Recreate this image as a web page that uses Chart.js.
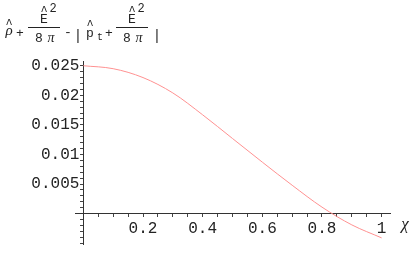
<!DOCTYPE html>
<html>
<head>
<meta charset="utf-8">
<script src="https://cdn.jsdelivr.net/npm/chart.js@4"></script>
<style>
html, body { margin: 0; padding: 0; background: #fff; }
#wrap { width: 416px; height: 257px; }
</style>
</head>
<body>
<div id="wrap"><canvas id="myChart" width="416" height="257"></canvas></div>
<script>
var chiValues = [0, 0.1, 0.2, 0.3, 0.4, 0.5, 0.6, 0.7, 0.8, 0.9, 1.0];
var curveValues = [0.0250, 0.0245, 0.0230, 0.0204, 0.0167, 0.0127, 0.0087, 0.0048, 0.0011, -0.0019, -0.0041];
var xLabels = [0.2, 0.4, 0.6, 0.8, 1];
var yLabels = [0.005, 0.01, 0.015, 0.02, 0.025];

var points = chiValues.map(function(c, i){ return {x: c, y: curveValues[i]}; });

function isLabel(v, list){
  return list.some(function(t){ return Math.abs(t - v) < 1e-9; });
}

var mono = '"Liberation Mono", monospace';
var ink = 'rgb(35,35,35)';

// axis label drawn Mathematica-style in the top left corner
var axisLabels = {
  id: 'axisLabels',
  beforeDraw: function(chart){
    // y labels sit a few px left of the crossing axis
    var s = chart.scales.y;
    if (s && !s._shifted) {
      var orig = s.drawLabels;
      s.drawLabels = function(area){
        this.ctx.save();
        this.ctx.translate(-4, 0);
        orig.call(this, area);
        this.ctx.restore();
      };
      s._shifted = true;
    }
  },
  afterDraw: function(chart){
    var ctx = chart.ctx;
    ctx.save();
    ctx.fillStyle = ink;
    ctx.strokeStyle = ink;
    ctx.lineWidth = 1;
    ctx.textBaseline = 'alphabetic';

    function txt(s, x, y, font, align){
      ctx.font = font;
      ctx.textAlign = align || 'left';
      ctx.fillText(s, x, y);
    }
    function frac(cx){
      txt('E', cx, 23, '13px ' + mono, 'center');
      txt('^', cx, 15, '12px ' + mono, 'center');
      txt('2', cx + 9, 12, '12px ' + mono, 'center');
      ctx.beginPath();
      ctx.moveTo(cx - 16, 27.5); ctx.lineTo(cx + 16, 27.5);
      ctx.stroke();
      txt('8', cx - 5, 42, '13px ' + mono, 'center');
      txt('\u03c0', cx + 7, 42, 'italic 14px "Liberation Serif"', 'center');
    }

    txt('\u03c1', 9, 35, 'italic 15px "Liberation Serif"', 'center');
    txt('^', 9, 28, '12px ' + mono, 'center');
    txt('+', 20, 37, '13px ' + mono, 'center');
    frac(44);
    txt('-', 68, 36, '13px ' + mono, 'center');
    txt('|', 78, 40, '14px ' + mono, 'center');
    txt('p', 90, 37, '13px ' + mono, 'center');
    txt('^', 90, 29, '12px ' + mono, 'center');
    txt('t', 100, 40, '10px ' + mono, 'center');
    txt('+', 109, 37, '13px ' + mono, 'center');
    frac(132);
    txt('|', 157, 40, '14px ' + mono, 'center');

    txt('\u03c7', 405, 229, 'italic 17px "Liberation Serif"', 'center');
    ctx.restore();
  }
};

var ctx = document.getElementById('myChart').getContext('2d');
var myChart = new Chart(ctx, {
  type: 'line',
  data: {
    datasets: [{
      data: points,
      borderColor: 'rgb(255, 145, 145)',
      borderWidth: 1,
      pointRadius: 0,
      fill: false,
      cubicInterpolationMode: 'monotone'
    }]
  },
  options: {
    responsive: false,
    animation: false,
    layout: { padding: { left: 75, right: 26, top: 61, bottom: 0 } },
    plugins: { legend: { display: false }, tooltip: { enabled: false } },
    scales: {
      x: {
        type: 'linear',
        position: { y: 0 },
        min: -0.028,
        max: 1.028,
        afterFit: function(s){ s.height = 0; },
        afterBuildTicks: function(s){
          var t = [];
          for (var i = 0; i <= 20; i++) t.push({value: i * 0.05});
          s.ticks = t;
        },
        border: { display: true, color: '#333', width: 1 },
        grid: { drawOnChartArea: false, tickLength: 3, color: '#444' },
        ticks: {
          autoSkip: false,
          maxRotation: 0,
          padding: 3,
          color: ink,
          font: { family: mono, size: 16 },
          callback: function(v){ return isLabel(v, xLabels) ? String(+v.toFixed(2)) : ''; }
        }
      },
      y: {
        type: 'linear',
        position: { x: 0 },
        min: -0.0052,
        max: 0.0258,
        afterFit: function(s){ s.width = 0; },
        afterBuildTicks: function(s){
          var t = [];
          for (var i = -5; i <= 25; i++) t.push({value: i * 0.001});
          s.ticks = t;
        },
        border: { display: true, color: '#333', width: 1 },
        grid: { drawOnChartArea: false, tickLength: 3, color: '#444' },
        ticks: {
          autoSkip: false,
          padding: 3,
          color: ink,
          font: { family: mono, size: 16 },
          callback: function(v){ return isLabel(v, yLabels) ? String(+v.toFixed(3)) : ''; }
        }
      }
    }
  },
  plugins: [axisLabels]
});
</script>
</body>
</html>
